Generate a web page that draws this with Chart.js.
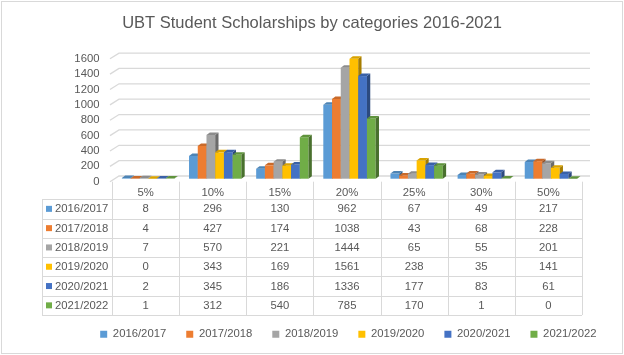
<!DOCTYPE html>
<html lang="en">
<head>
<meta charset="UTF-8">
<title>UBT Student Scholarships by categories 2016-2021</title>
<script src="https://cdn.jsdelivr.net/npm/chart.js"></script>
<style>
  body { margin: 0; background: #ffffff; }
</style>
</head>
<body>
<canvas id="chart" width="624" height="355"></canvas>
<script>
// data
const categories = ['5%', '10%', '15%', '20%', '25%', '30%', '50%'];
const years = ['2016/2017', '2017/2018', '2018/2019', '2019/2020', '2020/2021', '2021/2022'];
const y2016 = [8, 296, 130, 962, 67, 49, 217];
const y2017 = [4, 427, 174, 1038, 43, 68, 228];
const y2018 = [7, 570, 221, 1444, 65, 55, 201];
const y2019 = [0, 343, 169, 1561, 238, 35, 141];
const y2020 = [2, 345, 186, 1336, 177, 83, 61];
const y2021 = [1, 312, 540, 785, 170, 1, 0];
const yMax = 1600;
const yStep = 200;

const colors = ['#5B9BD5', '#ED7D31', '#A5A5A5', '#FFC000', '#4472C4', '#70AD47'];
const series = [y2016, y2017, y2018, y2019, y2020, y2021];
const textColor = '#595959';
const lineColor = '#D9D9D9';
const fontFamily = '"Liberation Sans", Arial, sans-serif';

function shade(hex, f) {
    const n = parseInt(hex.slice(1), 16);
    const r = Math.round(((n >> 16) & 255) * f);
    const g = Math.round(((n >> 8) & 255) * f);
    const b = Math.round((n & 255) * f);
    return `rgb(${r},${g},${b})`;
}

function poly(ctx, pts) {
    ctx.beginPath();
    ctx.moveTo(pts[0][0], pts[0][1]);
    for (let k = 1; k < pts.length; k++) ctx.lineTo(pts[k][0], pts[k][1]);
    ctx.closePath();
    ctx.fill();
}

// draws the 3D look: back-wall gridlines, bar faces, and the data table
const excel3d = {
    id: 'excel3d',
    beforeDraw(chart) {
        const ctx = chart.ctx;
        ctx.save();
        ctx.fillStyle = '#ffffff';
        ctx.fillRect(0, 0, chart.width, chart.height);
        ctx.strokeStyle = lineColor;
        ctx.lineWidth = 1;
        ctx.strokeRect(1.5, 1.5, chart.width - 3, chart.height - 3);
        ctx.restore();
    },
    beforeDatasetsDraw(chart) {
        const { ctx, chartArea: a, scales: { y } } = chart;
        ctx.save();
        ctx.strokeStyle = lineColor;
        ctx.lineWidth = 1.3;
        y.ticks.forEach(t => {
            const py = y.getPixelForValue(t.value);
            ctx.beginPath();
            ctx.moveTo(a.left - 2, py + 3);
            ctx.lineTo(a.left + 7, py - 2.7);
            ctx.lineTo(a.right + 8, py - 2.7);
            ctx.stroke();
        });

        const dx = 3.3, dy = 2.5, shift = 2.5;
        for (let i = 0; i < categories.length; i++) {
            chart.data.datasets.forEach((ds, d) => {
                const el = chart.getDatasetMeta(d).data[i];
                const w = el.width;
                const l = el.x - w / 2 + shift, r = l + w;
                const top = el.y, base = el.base;
                ctx.fillStyle = ds.backgroundColor;
                ctx.fillRect(l, top, w, base - top);
                ctx.fillStyle = shade(ds.backgroundColor, 0.65);
                poly(ctx, [[r, top], [r + dx, top - dy], [r + dx, base - dy], [r, base]]);
                ctx.fillStyle = shade(ds.backgroundColor, 0.85);
                poly(ctx, [[l, top], [l + dx, top - dy], [r + dx, top - dy], [r, top]]);
            });
        }
        ctx.restore();
        return false;
    },
    afterDraw(chart) {
        const { ctx, chartArea: a, scales: { x } } = chart;
        const colW = (x.right - x.left) / categories.length;
        const headTop = a.bottom + 3;
        const headBottom = a.bottom + 20.5;
        const rowH = 19.3;
        const tableLeft = 42;
        const tableBottom = headBottom + rowH * years.length;

        ctx.save();
        ctx.strokeStyle = lineColor;
        ctx.lineWidth = 1;
        ctx.beginPath();
        for (let k = 0; k <= categories.length; k++) {
            const px = Math.round(x.left + k * colW) + 0.5;
            ctx.moveTo(px, headTop);
            ctx.lineTo(px, tableBottom);
        }
        ctx.moveTo(tableLeft + 0.5, headBottom);
        ctx.lineTo(tableLeft + 0.5, tableBottom);
        for (let r = 0; r <= years.length; r++) {
            const py = Math.round(headBottom + r * rowH) + 0.5;
            ctx.moveTo(tableLeft, py);
            ctx.lineTo(x.right, py);
        }
        ctx.stroke();

        ctx.font = '11.3px ' + fontFamily;
        ctx.textBaseline = 'middle';
        years.forEach((yr, r) => {
            const cy = headBottom + r * rowH + rowH / 2;
            ctx.fillStyle = colors[r];
            ctx.fillRect(46, cy - 3, 6, 6);
            ctx.fillStyle = textColor;
            ctx.textAlign = 'left';
            ctx.fillText(yr, 55, cy + 0.5);
            ctx.textAlign = 'center';
            series[r].forEach((v, i) => {
                ctx.fillText(String(v), x.left + (i + 0.5) * colW, cy + 0.5);
            });
        });
        ctx.restore();
    }
};

const datasets = years.map((yr, d) => ({
    label: yr,
    data: series[d],
    backgroundColor: colors[d],
    borderWidth: 0
}));

new Chart(document.getElementById('chart'), {
    type: 'bar',
    data: { labels: categories, datasets: datasets },
    options: {
        responsive: false,
        animation: false,
        layout: { padding: { top: 0, left: 7.5, right: 7.5, bottom: 5 } },
        datasets: { bar: { categoryPercentage: 0.78, barPercentage: 1 } },
        plugins: {
            title: {
                display: true,
                text: 'UBT Student Scholarships by categories 2016-2021',
                color: textColor,
                font: { family: fontFamily, size: 16.5, weight: 'normal' },
                padding: { top: 14, bottom: 22 }
            },
            legend: {
                position: 'bottom',
                align: 'end',
                labels: {
                    color: textColor,
                    font: { family: fontFamily, size: 11.3 },
                    boxWidth: 7,
                    boxHeight: 7,
                    padding: 20
                }
            },
            tooltip: { enabled: false }
        },
        scales: {
            x: {
                grid: { display: false, drawTicks: false },
                border: { display: false },
                ticks: { color: textColor, font: { family: fontFamily, size: 11.3 }, padding: 7 },
                afterFit: s => { s.height = 130; }
            },
            y: {
                min: 0,
                max: yMax,
                grid: { display: false, drawTicks: false },
                border: { display: false },
                ticks: {
                    stepSize: yStep,
                    autoSkip: false,
                    color: textColor,
                    font: { family: fontFamily, size: 11.3 },
                    padding: 12.5,
                    labelOffset: 3,
                    callback: v => String(v)
                },
                afterFit: s => { s.width = 104.5; }
            },
            yRight: {
                position: 'right',
                display: true,
                grid: { display: false, drawTicks: false },
                border: { display: false },
                ticks: { display: false },
                afterFit: s => { s.width = 34.5; }
            }
        }
    },
    plugins: [excel3d]
});
</script>
</body>
</html>
